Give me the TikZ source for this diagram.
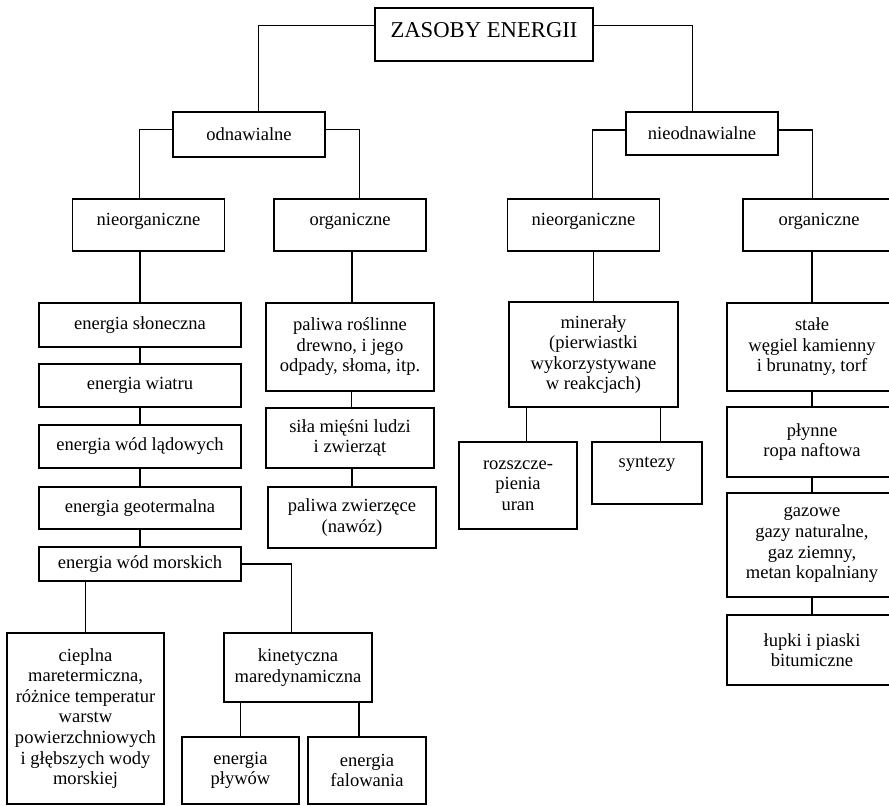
\documentclass[tikz,border=0pt]{standalone}
\usepackage{fontspec}
\setmainfont{Liberation Serif}
\usetikzlibrary{positioning}

\begin{document}
\begin{tikzpicture}[x=0.75pt,y=-0.75pt,line width=0.8pt,
   box/.style={draw,align=center,inner sep=0pt,outer sep=0pt,
     font=\fontsize{13.9}{15.4}\selectfont},
   lvl/.style={box,minimum width=114pt,minimum height=39pt,text depth=8pt}]
  \useasboundingbox (0,0) rectangle (889,806);
  \clip (0,0) rectangle (889,806);
  \node[box,minimum width=163.5pt,minimum height=39.75pt,text depth=7pt,
    font=\fontsize{17}{20}\selectfont] (zasoby) at (484,34.5) {ZASOBY ENERGII};
  \node[box,minimum width=114pt,minimum height=33.75pt] (odn) at (249,134.5) {odnawialne};
  \node[box,minimum width=114pt,minimum height=32.25pt] (nieodn) at (702,133.5) {nieodnawialne};
  \node[lvl] (nieorgL) at (148.5,225) {nieorganiczne};
  \node[lvl] (orgL) at (350,225) {organiczne};
  \node[lvl] (nieorgR) at (583.5,225) {nieorganiczne};
  \node[lvl] (orgR) at (819,225) {organiczne};
  % odnawialne, nieorganiczne
  \node[box,minimum width=151.5pt,minimum height=33pt] (slon) at (140,325) {energia słoneczna};
  \node[box,minimum width=151.5pt,minimum height=32.25pt] (wiatr) at (140,385.5) {energia wiatru};
  \node[box,minimum width=151.5pt,minimum height=32.25pt] (lad) at (140,446.5) {energia wód lądowych};
  \node[box,minimum width=151.5pt,minimum height=31.5pt] (geo) at (140,508) {energia geotermalna};
  \node[box,minimum width=151.5pt,minimum height=25.5pt] (mors) at (140,564) {energia wód morskich};
  \node[box,minimum width=117.75pt,minimum height=128.25pt] (cieplna) at (85.5,718.5)
    {cieplna\\maretermiczna,\\różnice temperatur\\warstw\\powierzchniowych\\i głębszych wody\\morskiej};
  \node[box,minimum width=111pt,minimum height=51.75pt] (kinet) at (298,667.5) {kinetyczna\\maredynamiczna};
  \node[box,minimum width=87.75pt,minimum height=50.25pt] (plywy) at (240.5,770.5) {energia\\pływów};
  \node[box,minimum width=88.5pt,minimum height=50.25pt] (falow) at (367,770.5) {energia\\falowania};
  % odnawialne, organiczne
  \node[box,minimum width=126pt,minimum height=66pt] (palR) at (350,347) {paliwa roślinne\\drewno, i jego\\odpady, słoma, itp.};
  \node[box,minimum width=126pt,minimum height=45pt] (sila) at (350,438) {siła mięśni ludzi\\i zwierząt};
  \node[box,minimum width=126pt,minimum height=45.75pt] (palZ) at (352,517.5) {paliwa zwierzęce\\(nawóz)};
  % nieodnawialne
  \node[box,minimum width=126.75pt,minimum height=78.75pt] (miner) at (593.5,354.5)
    {minerały\\(pierwiastki\\wykorzystywane\\w reakcjach)};
  \node[box,minimum width=88.5pt,minimum height=65.25pt] (rozsz) at (518,485.5) {rozszcze-\\pienia\\uran};
  \node[box,minimum width=82.5pt,minimum height=46.5pt] (synt) at (647,473) {syntezy\\\mbox{}};
  \node[box,minimum width=127.5pt,minimum height=66pt] (stale) at (812,347) {stałe\\węgiel kamienny\\i brunatny, torf};
  \node[box,minimum width=127.5pt,minimum height=52.5pt] (plynne) at (812,442) {płynne\\ropa naftowa};
  \node[box,minimum width=127.5pt,minimum height=78pt] (gaz) at (812,545) {gazowe\\gazy naturalne,\\gaz ziemny,\\metan kopalniany};
  \node[box,minimum width=127.5pt,minimum height=52.5pt] (lupki) at (812,650) {łupki i piaski\\bitumiczne};

  \draw ([yshift=7pt]zasoby.west) -| ([xshift=7pt]odn.north);
  \draw ([yshift=7pt]zasoby.east) -| ([xshift=-7pt]nieodn.north);
  \draw ([yshift=4pt]odn.west) -| ([xshift=-7pt]nieorgL.north);
  \draw ([yshift=4pt]odn.east) -| ([xshift=7pt]orgL.north);
  \draw ([yshift=2.6pt]nieodn.west) -| ([xshift=7pt]nieorgR.north);
  \draw ([yshift=2.6pt]nieodn.east) -| ([xshift=-5pt]orgR.north);

  \draw (slon.north) -- (slon.north |- nieorgL.south);
  \draw (slon) -- (wiatr) (wiatr) -- (lad) (lad) -- (geo) (geo) -- (mors);
  \draw (cieplna.north) -- (cieplna.north |- mors.south);
  \draw (mors.east) -| ([xshift=-5pt]kinet.north);
  \draw (plywy.north) -- (plywy.north |- kinet.south);
  \draw ([xshift=-6pt]falow.north) -- ([xshift=-6pt]falow.north |- kinet.south);

  \draw ([xshift=1.5pt]palR.north) -- ([xshift=1.5pt]palR.north |- orgL.south);
  \draw ([xshift=1pt]palR.south) -- ([xshift=1pt]sila.north);
  \draw ([xshift=1.5pt]sila.south) -- (palZ.north);

  \draw (miner.north) -- (miner.north |- nieorgR.south);
  \draw ([xshift=-50pt]miner.south) -- ([xshift=-50pt]miner.south |- rozsz.north);
  \draw ([xshift=50pt]miner.south) -- ([xshift=50pt]miner.south |- synt.north);

  \draw (stale.north) -- (stale.north |- orgR.south);
  \draw (stale) -- (plynne) (plynne) -- (gaz) (gaz) -- (lupki);
\end{tikzpicture}
\end{document}
